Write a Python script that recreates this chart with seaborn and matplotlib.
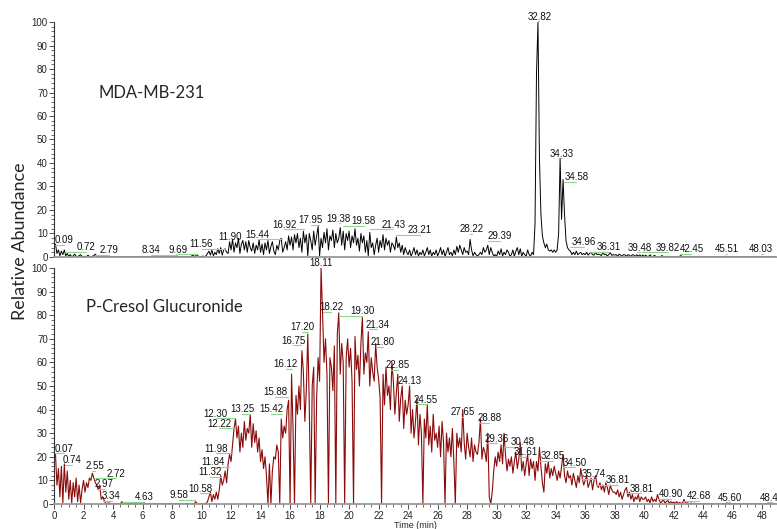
import numpy as np
import pandas as pd
import seaborn as sns
import matplotlib.pyplot as plt
from matplotlib.ticker import MultipleLocator

# relative abundance, one row per minute, 0.1 min steps
mda_rows = [
    [4, 5.5, 1.5, 3, 0.5, 2.5, 1, 3, 0.5, 1.5],
    [0.3, 1, 0.2, 0.4, 1.2, 0.3, 0.2, 0.5, 1, 0.3],
    [0.2, 0.3, 0.1, 0.8, 0.2, 0.1, 0.3, 0.6, 1.2, 0.4],
    [0.3, 0.1, 0.2, 0.1, 0.1, 0.2, 0.1, 0.1, 0.1, 0.1],
    [0.1, 0.1, 0.2, 0.1, 0.1, 0.1, 0.1, 0.2, 0.1, 0.1],
    [0.1, 0.1, 0.1, 0.1, 0.2, 0.1, 0.1, 0.1, 0.1, 0.1],
    [0.1, 0.2, 0.1, 0.1, 0.1, 0.1, 0.2, 0.1, 0.1, 0.1],
    [0.1, 0.1, 0.1, 0.2, 0.1, 0.1, 0.1, 0.1, 0.2, 0.1],
    [0.1, 0.2, 0.3, 0.8, 0.2, 0.1, 0.1, 0.2, 0.1, 0.1],
    [0.1, 0.2, 0.1, 0.3, 0.8, 0.2, 0.5, 1.2, 0.2, 0.1],
    [0.2, 0.4, 0.1, 0.5, 1.5, 2.5, 0.8, 3, 0.5, 2],
    [1, 3.5, 1.5, 4, 0.8, 3, 3.5, 2, 1.5, 6.5],
    [3, 7.5, 2, 6, 4, 8, 1.5, 5.5, 7, 3],
    [6.5, 2, 7, 4, 2.5, 6, 1.5, 5, 3, 7.5],
    [2, 5.5, 1, 6, 3, 7, 1.5, 4.5, 6.5, 2.5],
    [1, 5, 3, 7, 8, 2, 4, 6.5, 3, 9],
    [5, 8.5, 3, 9.5, 6, 10, 4, 8, 2, 11],
    [6, 9.5, 0.5, 10, 7, 3, 11, 5, 9, 13],
    [0.5, 8, 4, 10.5, 6, 12, 3, 9, 7, 11.5],
    [4, 10, 6, 8, 12.5, 5, 11, 3, 10, 7],
    [11, 4, 9, 6, 12, 5, 8, 2.5, 10, 6],
    [9, 2, 7, 0.5, 10.5, 4, 6, 1, 5, 8],
    [2, 7, 4, 9.5, 3, 8, 5, 7, 2, 6],
    [5, 3, 8.5, 4, 6, 2, 5, 1, 4, 2],
    [1, 3, 0.3, 2, 4, 1, 3, 0.3, 2, 1],
    [3, 0.5, 2, 4, 1, 3, 0.3, 2, 1, 3],
    [0.4, 2, 4, 1, 3, 0.3, 2, 4, 1, 2],
    [0.5, 3, 1, 4.5, 2, 5, 3, 1, 4, 2],
    [2.5, 1, 7.5, 3, 0.5, 2, 1, 0.4, 1, 2],
    [1, 4, 2, 3, 5, 1, 4, 2, 0.3, 1],
    [0.3, 2.5, 1, 3.5, 0.4, 2, 1, 3, 2, 0.3],
    [1, 3, 0.3, 2.5, 4, 1, 3.5, 0.3, 2, 1],
    [0.3, 3, 1, 0.4, 2, 1, 14, 78, 100, 42],
    [18, 9, 6, 4, 5.5, 3, 2.5, 3, 2, 3],
    [2, 3, 10, 42, 16, 33, 18, 7, 4, 3],
    [2.5, 1, 2, 1, 2.5, 1, 1.5, 2, 1, 1.5],
    [1, 2, 0.8, 1.5, 2, 1, 0.8, 2, 1, 1.2],
    [1, 0.6, 2, 1, 1.2, 0.5, 1, 1.8, 0.7, 1],
    [0.8, 1, 0.3, 1.2, 0.8, 0.3, 1, 0.9, 0.3, 1],
    [0.7, 0.2, 1, 0.8, 0.2, 1, 0.3, 0.9, 0.2, 0.8],
    [0.2, 0.8, 0.2, 0.3, 0.9, 0.2, 0.2, 0.7, 0.2, 0.2],
    [0.2, 0.2, 0.6, 0.2, 0.2, 0.1, 0.3, 0.1, 0.1, 0.2],
    [0.1, 0.2, 0.1, 0.1, 0.3, 0.6, 0.1, 0.1, 0.2, 0.1],
    [0.1, 0.1, 0.2, 0.1, 0.1, 0.1, 0.1, 0.2, 0.1, 0.1],
    [0.1, 0.1, 0.1, 0.1, 0.2, 0.1, 0.1, 0.1, 0.1, 0.1],
    [0.1, 0.2, 0.1, 0.1, 0.1, 0.3, 0.1, 0.1, 0.1, 0.1],
    [0.1, 0.1, 0.1, 0.2, 0.1, 0.1, 0.1, 0.1, 0.1, 0.1],
    [0.1, 0.1, 0.1, 0.1, 0.1, 0.1, 0.2, 0.1, 0.1, 0.1],
    [0.2, 0.1, 0.1, 0.1, 0.1, 0.1, 0.1, 0.1, 0.1, 0.1],
]

pcg_rows = [
    [20, 21, 8, 15, 3, 16, 0.5, 17, 5, 14],
    [2, 10, 0.5, 9, 3, 11, 1, 8, 0.5, 6],
    [10, 5, 9, 7, 11, 10, 13, 11, 9, 8],
    [6, 8, 2, 3, 1.5, 0.3, 0.2, 0.5, 0.2, 0.1],
    [0.1, 0.1, 0.1, 0.1, 0.1, 0.1, 1, 0.1, 0.1, 0.1],
    [0.1, 0.1, 0.1, 0.2, 0.1, 0.1, 0.1, 0.1, 0.1, 0.1],
    [0.1, 0.1, 0.1, 0.1, 0.1, 0.2, 0.1, 0.1, 0.1, 0.1],
    [0.1, 0.2, 0.1, 0.1, 0.1, 0.1, 0.1, 0.1, 0.2, 0.1],
    [0.1, 0.1, 0.1, 0.1, 0.2, 0.1, 0.1, 0.1, 0.1, 0.1],
    [0.1, 0.1, 0.1, 0.1, 0.1, 0.1, 1, 0.1, 0.1, 0.1],
    [0.1, 0.1, 0.1, 0.2, 1, 3, 5, 1, 4, 2],
    [5, 2, 6, 12, 8, 10, 14, 9, 17, 21],
    [18, 25, 32, 36, 28, 33, 22, 30, 24, 35],
    [27, 32, 30, 38, 24, 34, 26, 31, 22, 28],
    [18, 23, 15, 20, 12, 0, 17, 0, 14, 20],
    [19, 25, 22, 0, 36, 28, 33, 30, 40, 44],
    [0, 55, 32, 0, 46, 38, 50, 40, 65, 56],
    [35, 48, 72, 42, 0, 50, 58, 0, 45, 62],
    [52, 100, 81, 60, 70, 55, 0, 62, 58, 48],
    [67, 0, 72, 81, 55, 68, 60, 0, 62, 70],
    [58, 66, 52, 0, 71, 57, 63, 50, 68, 79],
    [55, 64, 60, 73, 50, 62, 56, 52, 68, 58],
    [53, 45, 0, 55, 42, 58, 46, 50, 40, 60],
    [52, 38, 47, 55, 35, 45, 50, 32, 44, 38],
    [42, 50, 30, 40, 28, 35, 45, 25, 38, 30],
    [0, 36, 28, 42, 25, 33, 22, 38, 27, 30],
    [24, 33, 20, 35, 26, 0, 30, 22, 28, 20],
    [32, 18, 0, 30, 24, 28, 22, 40, 26, 19],
    [30, 24, 20, 28, 18, 25, 22, 21, 26, 36],
    [19, 24, 22, 18, 30, 3, 0, 5, 14, 20],
    [16, 22, 18, 25, 17, 30, 21, 14, 19, 16],
    [20, 13, 18, 22, 15, 19, 26, 14, 18, 12],
    [17, 21, 12, 19, 15, 18, 10, 18, 14, 24],
    [16, 9, 5, 17, 13, 18, 11, 15, 12, 16],
    [13, 10, 14, 11, 16, 21, 12, 9, 14, 11],
    [12, 8, 13, 10, 7, 12, 9, 15, 11, 8],
    [10, 12, 7, 9, 11, 6, 10, 12, 8, 7],
    [9, 6, 8, 5, 9, 7, 4, 8, 6, 5],
    [5, 4, 6, 3, 5, 2, 4, 6, 7, 3],
    [5, 2, 4, 1, 3, 2, 4, 1, 3, 2],
    [2, 3, 1, 2, 0.5, 3, 1, 2, 1, 4],
    [2, 0.5, 1, 2, 0.3, 1, 1.5, 0.4, 1, 0.5],
    [0.8, 0.3, 1, 0.2, 0.6, 0.3, 0.4, 2, 0.2, 0.5],
    [0.3, 0.2, 0.4, 0.1, 0.3, 0.1, 0.2, 0.1, 0.2, 0.1],
    [0.1, 0.2, 0.1, 0.1, 0.2, 0.1, 0.1, 0.1, 0.1, 0.1],
    [0.1, 0.1, 0.1, 0.1, 0.1, 0.1, 0.5, 0.1, 0.1, 0.1],
    [0.1, 0.1, 0.2, 0.1, 0.1, 0.1, 0.1, 0.1, 0.1, 0.1],
    [0.1, 0.1, 0.1, 0.1, 0.1, 0.2, 0.1, 0.1, 0.1, 0.1],
    [0.1, 0.1, 0.1, 0.1, 0.4, 0.1, 0.1, 0.1, 0.1, 0.1],
]

# peak labels: text, where the label sits (time, abundance)
mda_labels = ['0.09', '0.72', '2.79', '8.34', '9.69', '11.56', '11.90', '15.44', '16.92',
              '17.95', '19.38', '19.58', '21.43', '23.21', '28.22', '29.39', '32.82',
              '34.33', '34.58', '34.96', '36.31', '39.48', '39.82', '42.45', '45.51', '48.03']
mda_lab_x = [0.7, 2.2, 3.7, 6.6, 8.4, 10.0, 11.9, 13.8, 15.6,
             17.4, 19.3, 21.0, 23.0, 24.8, 28.3, 30.2, 32.9,
             34.4, 35.4, 35.9, 37.6, 39.7, 41.6, 43.2, 45.6, 47.9]
mda_lab_y = [6, 3, 1.6, 1.6, 1.8, 4.3, 7.2, 8.2, 12.5,
             14.5, 15, 14, 12.5, 10, 10.6, 7.7, 101,
             42.7, 32.8, 5, 3, 2.7, 2.7, 2, 2, 2]

pcg_labels = ['0.07', '0.74', '2.55', '2.72', '2.97', '3.34', '4.63', '9.58', '10.58',
              '11.32', '11.84', '11.98', '12.22', '12.30', '13.25', '15.42', '15.88',
              '16.12', '16.75', '17.20', '18.11', '18.22', '19.30', '21.34', '21.80',
              '22.85', '24.13', '24.55', '27.65', '28.88', '29.36', '30.48', '31.61',
              '32.85', '34.50', '35.74', '36.81', '38.81', '40.90', '42.68', '45.60', '48.44']
pcg_lab_x = [0.7, 1.2, 2.76, 4.2, 3.4, 3.9, 6.1, 8.5, 9.9,
             10.55, 10.8, 11.0, 11.2, 10.95, 12.75, 14.7, 15.0,
             15.7, 16.2, 16.8, 18.1, 18.8, 20.9, 21.9, 22.3,
             23.3, 24.1, 25.2, 27.7, 29.5, 30.0, 31.75, 32.0,
             33.8, 35.3, 36.6, 38.2, 39.8, 41.8, 43.7, 45.8, 48.65]
pcg_lab_y = [22.2, 17.4, 14.8, 11.6, 7.2, 2, 1.7, 2.5, 5.2,
             12.3, 16.5, 22.2, 32.8, 37, 39, 39, 46,
             58, 68, 73.7, 101, 82, 80.5, 74.7, 67.4,
             57.6, 51, 43, 37.7, 35, 26.4, 25, 20.8,
             19, 16.2, 11.3, 8.7, 5.2, 2.8, 2, 1.4, 1.4]

mda = np.concatenate(mda_rows)
pcg = np.concatenate(pcg_rows)
time = np.round(np.arange(len(mda)) * 0.1, 1)
df = pd.DataFrame({'time': time, 'mda': mda, 'pcg': pcg})

sns.set_theme(style='white')
plt.rcParams['font.family'] = ['Liberation Sans', 'DejaVu Sans']

fig = plt.figure(figsize=(7.77, 5.29), dpi=100)
ax1 = fig.add_axes([0.0695, 0.5142, 0.9305, 0.4442])
ax2 = fig.add_axes([0.0695, 0.0473, 0.9305, 0.4461])

sns.lineplot(data=df, x='time', y='mda', ax=ax1, color='black', lw=0.7, estimator=None)
sns.lineplot(data=df, x='time', y='pcg', ax=ax2, color='#8b0a0a', lw=0.8, estimator=None)

for ax, labels, lx, ly in [(ax1, mda_labels, mda_lab_x, mda_lab_y),
                           (ax2, pcg_labels, pcg_lab_x, pcg_lab_y)]:
    ax.set_xlim(0, 49)
    ax.set_ylim(0, 100)
    for s in ['top', 'right']:
        ax.spines[s].set_visible(False)
    ax.spines['left'].set_color('#333333')
    ax.spines['left'].set_linewidth(0.8)
    ax.spines['bottom'].set_color('#999999')
    ax.spines['bottom'].set_linewidth(1.3)
    ax.yaxis.set_major_locator(MultipleLocator(10))
    ax.yaxis.set_minor_locator(MultipleLocator(2))
    ax.xaxis.set_major_locator(MultipleLocator(2))
    ax.xaxis.set_minor_locator(MultipleLocator(0.5))
    ax.tick_params(axis='y', which='major', left=True, length=3.5, width=0.6,
                   color='#333333', labelsize=7, pad=1)
    ax.tick_params(axis='y', which='minor', left=True, length=2, width=0.5, color='#333333')
    ax.set_ylabel('')
    ax.set_xlabel('')
    for lab, x, y in zip(labels, lx, ly):
        t = float(lab)
        ax.plot([t, x], [y - 0.7, y - 0.7], color='#8fd68f', lw=0.8, clip_on=False)
        ax.text(x, y, lab, fontsize=7, ha='center', va='baseline', color='#111111', clip_on=False)

ax1.tick_params(axis='x', which='both', bottom=False, labelbottom=False)
ax2.tick_params(axis='x', which='major', bottom=True, length=3.5, width=0.6,
                color='#333333', labelsize=7, pad=1.5)
ax2.tick_params(axis='x', which='minor', bottom=True, length=2, width=0.5, color='#333333')
ax2.set_xlabel('Time (min)', fontsize=6.5, labelpad=0)

ax1.text(3.0, 70, 'MDA-MB-231', fontsize=12, family='Lato', va='center', ha='left')
ax2.text(2.2, 83.5, 'P-Cresol Glucuronide', fontsize=12, family='Lato', va='center', ha='left')
fig.text(0.026, 0.545, 'Relative Abundance', rotation=90, fontsize=13, family='Lato',
         va='center', ha='center')

fig.savefig('out.png', dpi=100)
